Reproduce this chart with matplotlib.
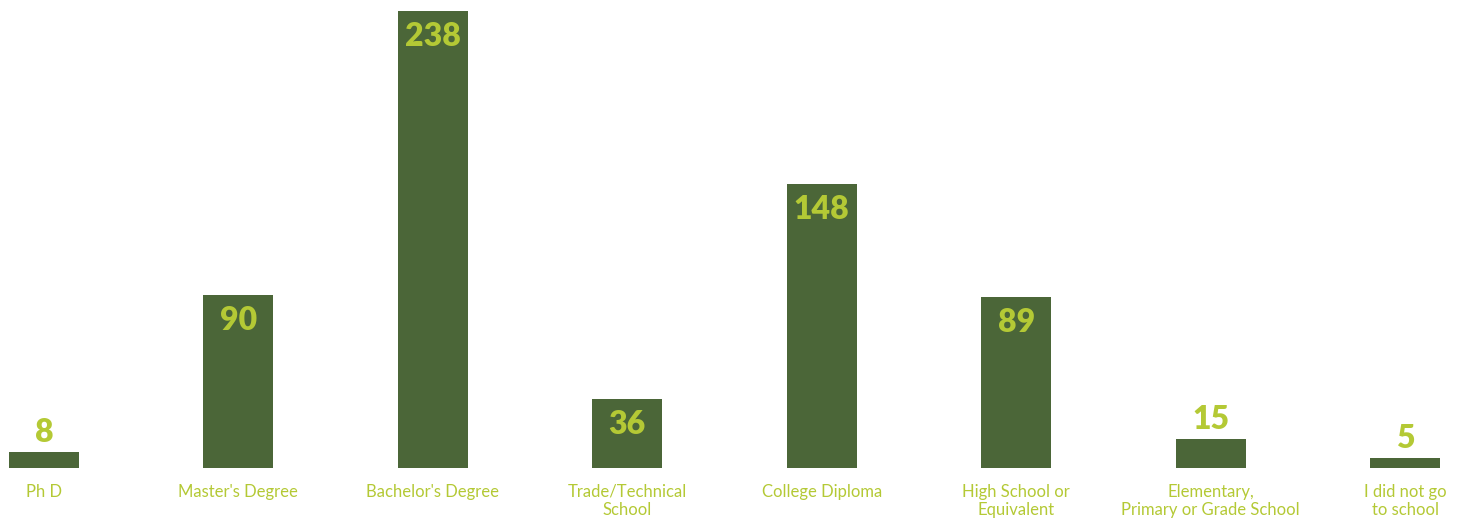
import matplotlib
matplotlib.use("Agg")
import matplotlib.pyplot as plt

categories = ["Ph D", "Master's Degree", "Bachelor's Degree", "Trade/Technical\nSchool",
              "College Diploma", "High School or\nEquivalent",
              "Elementary,\nPrimary or Grade School", "I did not go\nto school"]
values = [8, 90, 238, 36, 148, 89, 15, 5]

BAR = "#4B6638"
LIME = "#B4C935"

W, H, DPI = 1458, 521, 100
fig = plt.figure(figsize=(W / DPI, H / DPI), dpi=DPI)
base_px = 53.3
top_px = 510
ax = fig.add_axes([0, base_px / H, 1, (top_px - base_px) / H])
x = list(range(len(values)))
ax.bar(x, values, width=0.36, color=BAR)
step = 1361 / 7
ax.set_xlim(-44 / step, 7 + 53 / step)
ax.set_ylim(0, 238)
ax.axis("off")

px_per_unit = (top_px - base_px) / 238
for xi, v, c in zip(x, values, categories):
    h_px = v * px_per_unit
    if h_px > 45:
        ax.annotate(str(v), (xi, v), xytext=(0, -11), textcoords="offset pixels",
                    ha="center", va="top", fontsize=23, fontweight="heavy",
                    family=["Lato", "DejaVu Sans"], color=LIME)
    else:
        ax.annotate(str(v), (xi, v), xytext=(0, 5), textcoords="offset pixels",
                    ha="center", va="bottom", fontsize=23, fontweight="heavy",
                    family=["Lato", "DejaVu Sans"], color=LIME)
    ax.annotate(c, (xi, 0), xytext=(0, -16), textcoords="offset pixels",
                ha="center", va="top", fontsize=12, multialignment="center",
                family=["Lato", "DejaVu Sans"], color=LIME, linespacing=1.2,
                annotation_clip=False)

fig.savefig("out.png", dpi=DPI)
